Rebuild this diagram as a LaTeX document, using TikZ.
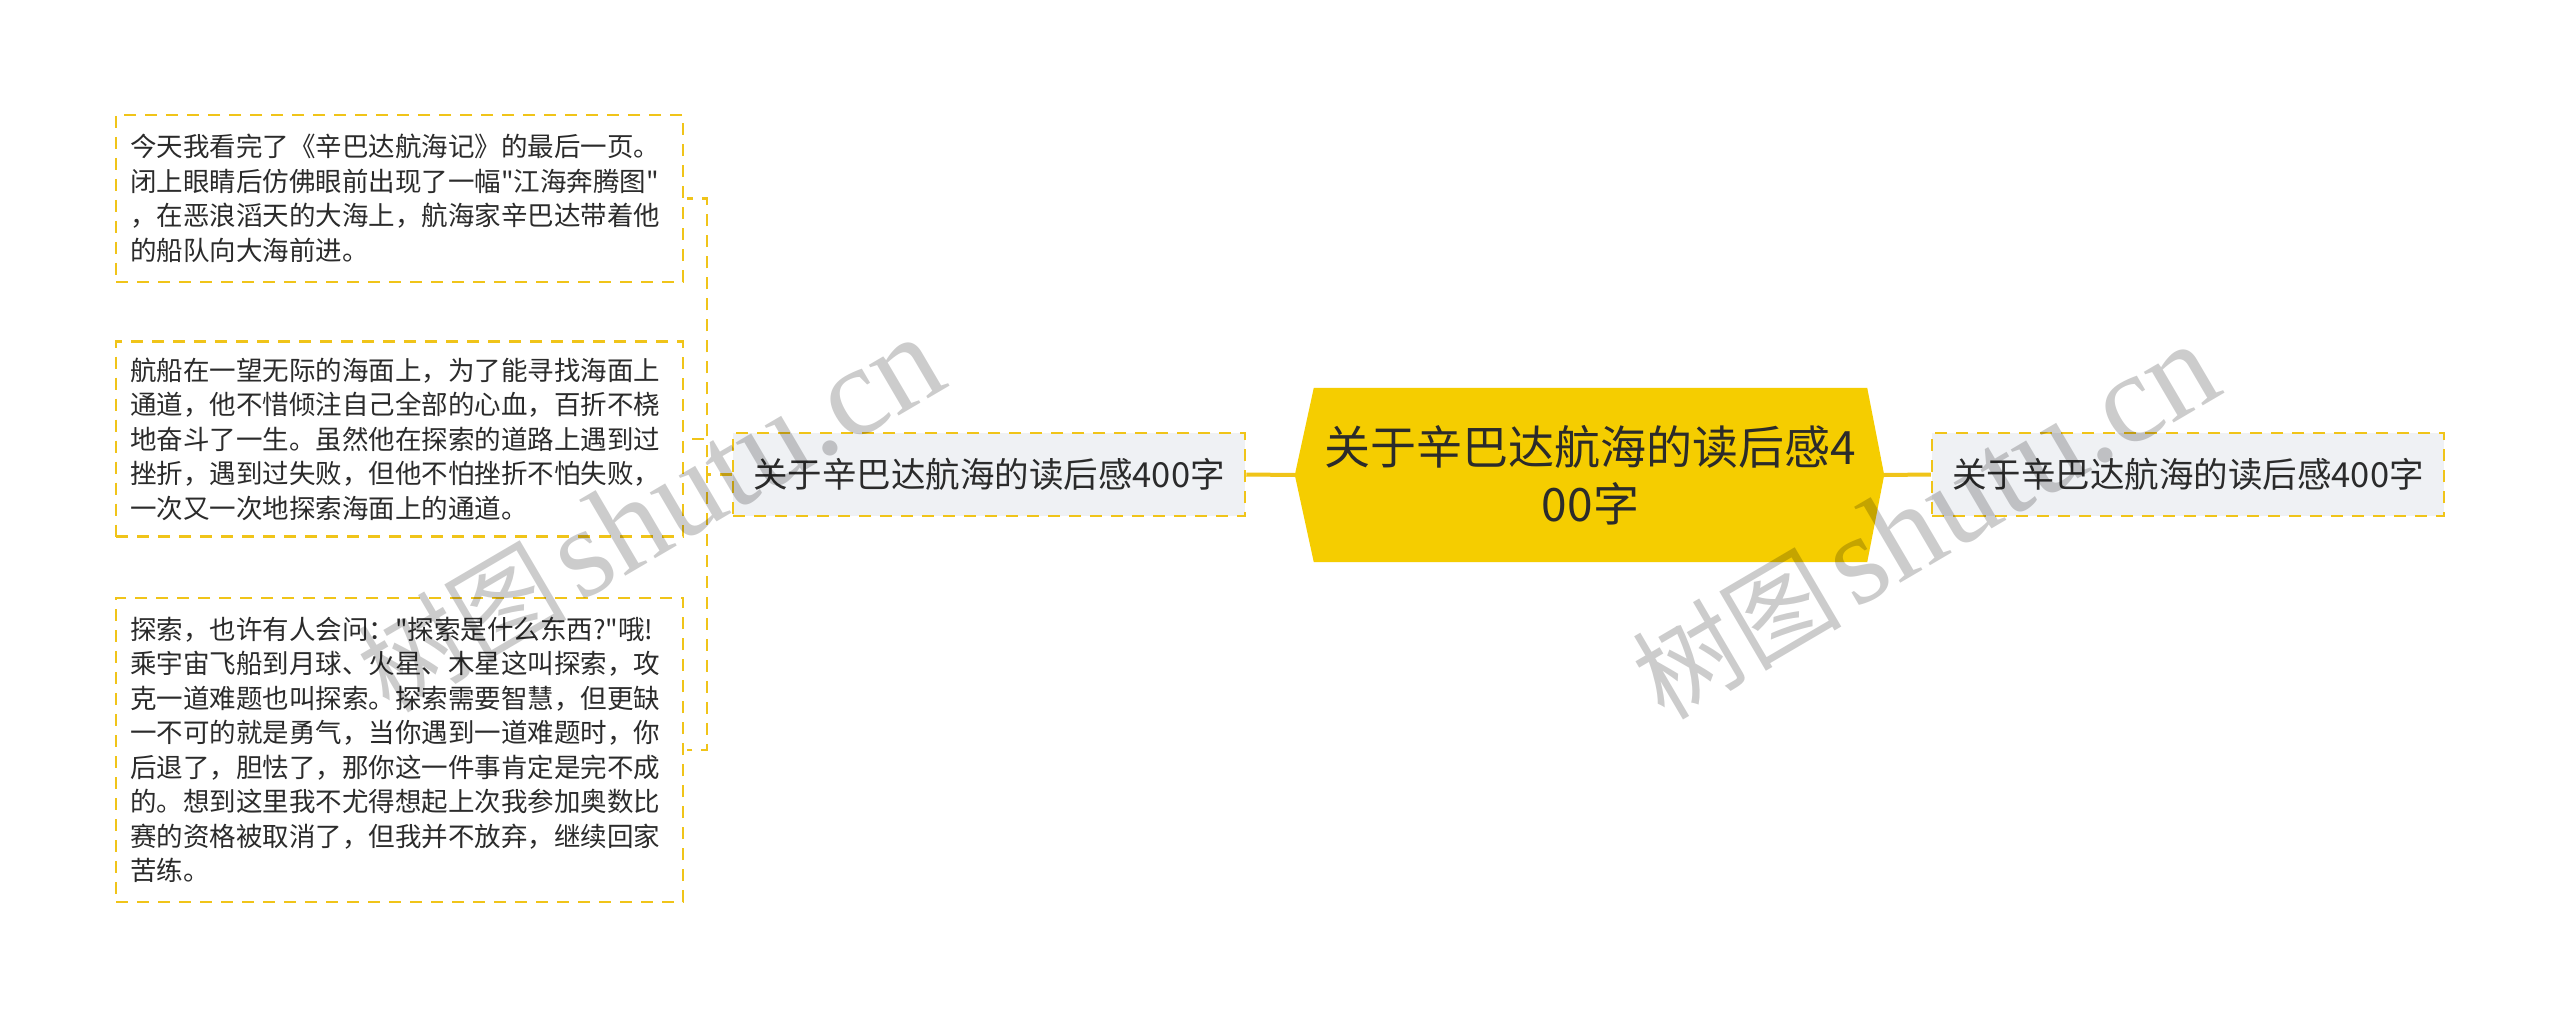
\documentclass[tikz,border=0pt]{standalone}
\usepackage{fontspec}
\setmainfont{Noto Sans CJK SC}
\newfontfamily\cjkf{Noto Sans CJK SC}
\newfontfamily\wmlat{Liberation Serif}
\usetikzlibrary{backgrounds,calc}
\definecolor{gold}{HTML}{F5CD00}
\definecolor{dashy}{HTML}{F0C419}
\definecolor{subfill}{HTML}{EFF1F4}
\definecolor{txt}{HTML}{2B2B2B}
\begin{document}
\begin{tikzpicture}[x=1pt,y=-1pt,
  tbox/.style={draw=dashy, line width=2.5pt, dash pattern=on 12pt off 9pt, fill=white, text=txt,
    font=\cjkf\fontsize{26.5}{34.5}\selectfont, align=left, text width=539pt, inner xsep=14pt, inner ysep=0pt,
    minimum width=567pt},
  sub/.style={draw=dashy, line width=2.5pt, dash pattern=on 12pt off 9pt, fill=subfill, text=txt,
    font=\cjkf\fontsize{34.5}{40}\selectfont, minimum width=512pt, minimum height=83pt, inner sep=0pt},
  root/.style={text=txt, font=\cjkf\fontsize{46}{57}\selectfont, align=center, minimum width=553pt,
    minimum height=174pt, inner sep=0pt},
  link/.style={draw=dashy, line width=4pt},
  brk/.style={draw=dashy, line width=2.5pt, dash pattern=on 12pt off 9pt},
  wm/.style={text=black, text opacity=0.2, inner sep=0pt}
]
\useasboundingbox (0,0) rectangle (2560,1019);

\node[root] (root) at (1590.5,475) {关于辛巴达航海的读后感4\\00字};
\coordinate (rootL) at ([xshift=-19pt]root.west);
\coordinate (rootR) at ([xshift=17pt]root.east);
\begin{scope}[on background layer]
  \fill[white] (0,0) rectangle (2560,1019);
  \fill[gold] (root.north west) -- (root.north east) -- (rootR) -- (root.south east)
    -- (root.south west) -- (rootL) -- cycle;
\end{scope}

\node[sub] (lnode) at (989,474.5) {关于辛巴达航海的读后感400字};
\node[sub] (rnode) at (2188,474.5) {关于辛巴达航海的读后感400字};

\node[tbox, minimum height=167pt] (b1) at (399.5,198.5) {今天我看完了《辛巴达航海记》的最后一页。\\闭上眼睛后仿佛眼前出现了一幅"江海奔腾图"\\，在恶浪滔天的大海上，航海家辛巴达带着他\\的船队向大海前进。};
\node[tbox, minimum height=195pt] (b2) at (399.5,439) {航船在一望无际的海面上，为了能寻找海面上\\通道，他不惜倾注自己全部的心血，百折不桡\\地奋斗了一生。虽然他在探索的道路上遇到过\\挫折，遇到过失败，但他不怕挫折不怕失败，\\一次又一次地探索海面上的通道。};
\node[tbox, minimum height=304pt] (b3) at (399.5,750) {探索，也许有人会问："探索是什么东西?"哦!\\乘宇宙飞船到月球、火星、木星这叫探索，攻\\克一道难题也叫探索。探索需要智慧，但更缺\\一不可的就是勇气，当你遇到一道难题时，你\\后退了，胆怯了，那你这一件事肯定是完不成\\的。想到这里我不尤得想起上次我参加奥数比\\赛的资格被取消了，但我并不放弃，继续回家\\苦练。};

\draw[link] (lnode.east) -- (rootL);
\draw[link] (rootR) -- (rnode.west);

\coordinate (bx) at (707,474.5);
\draw[brk] (lnode.west) -- (bx) |- ([xshift=3pt]b1.east);
\draw[brk] (lnode.west) -- (bx) |- ([xshift=3pt]b2.east);
\draw[brk] (lnode.west) -- (bx) |- ([xshift=3pt]b3.east);

\node[wm, rotate=30.4] (wm1) at (650,515) {\cjkf\fontsize{105}{105}\selectfont 树图\hspace{12pt}{\wmlat\fontsize{128}{128}\selectfont shutu.cn}};
\node[wm, rotate=30.4] (wm2) at (1925,522) {\cjkf\fontsize{105}{105}\selectfont 树图\hspace{12pt}{\wmlat\fontsize{128}{128}\selectfont shutu.cn}};
\end{tikzpicture}
\end{document}
